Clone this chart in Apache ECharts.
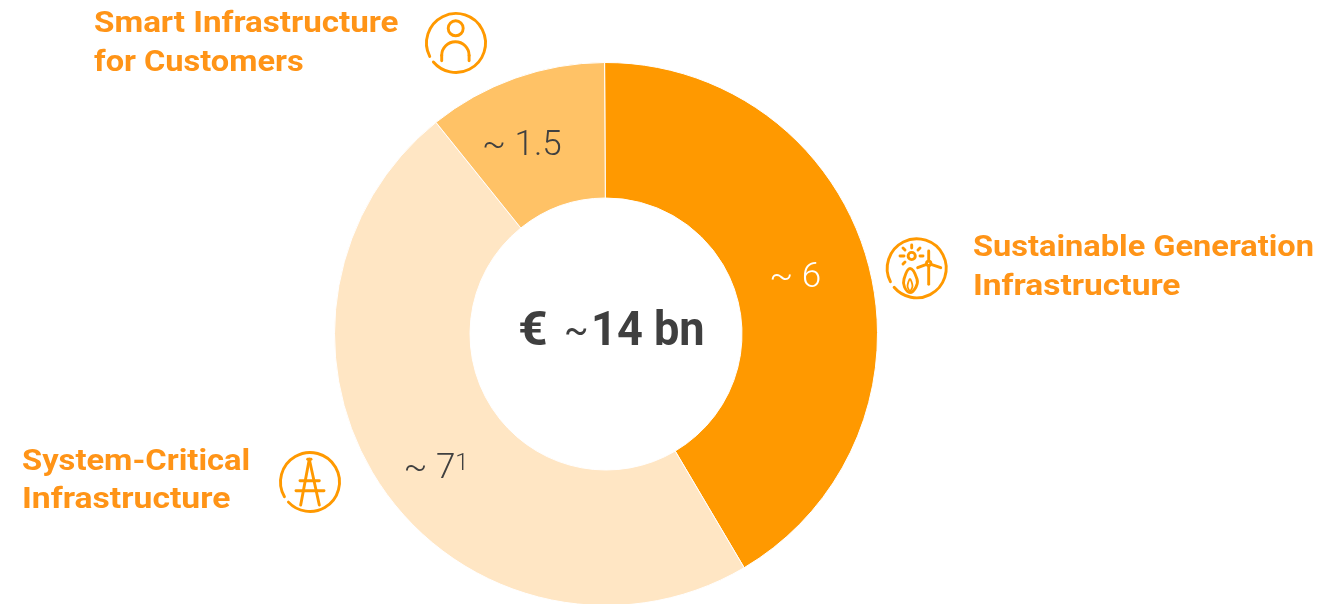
<!DOCTYPE html>
<html><head><meta charset="utf-8">
<style>html,body{margin:0;padding:0;background:#fff}#c{width:1334px;height:604px}</style>
<script src="https://cdn.jsdelivr.net/npm/echarts@6/dist/echarts.min.js"></script>
</head><body><div id="c"></div>
<script>
const categories = ['Sustainable Generation Infrastructure', 'System-Critical Infrastructure', 'Smart Infrastructure for Customers'];
const sliceValues = [6.03, 6.92, 1.55];
const valueLabels = ['6', '7', '1.5'];
const centerValue = '14 bn';
const colors = ['#FF9900', '#FFE6C4', '#FFC266'];
const labelColors = ['#FFFFFF', '#404040', '#404040'];
const labelOffsets = [[-10, -1], [0, 18], [-15, 7]];
const orange = '#FF9900';
const textOrange = '#FF9417';

const chart = echarts.init(document.getElementById('c'), null, {renderer: 'canvas'});
const FONT = 'Roboto, sans-serif';
const icoStyle = {fill: 'none', stroke: orange, lineWidth: 2.9, lineCap: 'round', lineJoin: 'round'};
const deg = d => d * Math.PI / 180;
const ring = (cx, cy, r, a, b) => ({type: 'arc', silent: true, shape: {cx, cy, r, startAngle: deg(a), endAngle: deg(b), clockwise: true}, style: icoStyle});
const seg = (s, w) => ({type: 'line', silent: true, shape: {x1: s[0], y1: s[1], x2: s[2], y2: s[3]}, style: w ? Object.assign({}, icoStyle, {lineWidth: w}) : icoStyle});
const head = (x, y, t, sx) => ({type: 'text', silent: true, x, y, scaleX: sx, style: {text: t, fill: textOrange, font: '700 30px ' + FONT, textVerticalAlign: 'middle'}});
const big = (x, t, sx, f) => ({type: 'text', silent: true, x, y: 333, scaleX: sx, style: {text: t, fill: '#3F3F3F', font: f, textVerticalAlign: 'middle'}});

const graphics = [
  head(94, 24, 'Smart Infrastructure', 1.105), head(94, 63, 'for Customers', 1.085),
  head(973, 248, 'Sustainable Generation', 1.085), head(973, 287, 'Infrastructure', 1.117),
  head(22, 462, 'System-Critical', 1.09), head(22, 500, 'Infrastructure', 1.122),
  ring(456, 43, 29.5, 153, 500),
  {type: 'circle', silent: true, shape: {cx: 455.7, cy: 28.3, r: 7.5}, style: icoStyle},
  ring(455.4, 55.4, 13.7, 180, 360),
  seg([441.7, 55.4, 441.7, 60.7]), seg([469.1, 55.4, 469.1, 60.7]),
  ring(916.7, 268.3, 29.5, 153, 500),
  {type: 'circle', silent: true, shape: {cx: 911.7, cy: 256, r: 3.6}, style: icoStyle},
  ...[[911.7,245,911.7,248],[903,248,905,250],[900,256,904,256],[903,264,905,262],[920,248,918,250],[923,256,920,256]].map(s => seg(s)),
  {type: 'circle', silent: true, shape: {cx: 928.7, cy: 263.3, r: 2.2}, style: icoStyle},
  ...[[928.7,251,928.7,261],[928.7,266,928.7,284.3],[917.7,267.7,926.5,264.3],[931,264.3,940.7,267.7]].map(s => seg(s)),
  {type: 'polygon', silent: true, shape: {points: [[910,268.5],[904,279],[904.5,287],[910,292.5],[916,287],[917,279]], smooth: 0.4}, style: icoStyle},
  {type: 'polygon', silent: true, shape: {points: [[910,279],[907.5,286],[910,291],[912.5,286]], smooth: 0.3}, style: Object.assign({}, icoStyle, {lineWidth: 1.8})},
  ring(310, 482, 29.5, 150, 497),
  ...[[309.3,459.3,300.7,505],[309.3,459.3,319.3,505],[300,480.7,319.3,480.7],[296,490.7,324,490.7],[307.7,459.3,311,459.3]].map(s => seg(s)),
  big(518, '€', 1.08, '700 48px ' + FONT),
  big(564, '~', 1.0, '400 36px ' + FONT),
  big(591, centerValue, 0.94, '700 48px ' + FONT)
];

chart.setOption({
  animation: false,
  backgroundColor: '#fff',
  color: colors,
  graphic: graphics,
  series: [{
    type: 'pie',
    center: [606, 334],
    radius: [136, 271.5],
    startAngle: 90.3,
    clockwise: true,
    silent: true,
    itemStyle: {borderColor: '#fff', borderWidth: 1},
    label: {position: 'inside'},
    labelLine: {show: false},
    data: categories.map((c, i) => ({
      name: c,
      value: sliceValues[i],
      itemStyle: {color: colors[i]},
      label: {
        show: true,
        position: 'inside',
        offset: labelOffsets[i],
        formatter: i === 1 ? '{t|~ ' + valueLabels[i] + '}{s|1}' : '{t|~ ' + valueLabels[i] + '}',
        rich: {
          t: {fontFamily: FONT, fontSize: 35, fontWeight: 300, color: labelColors[i]},
          s: {fontFamily: FONT, fontSize: 24, fontWeight: 300, color: labelColors[i], verticalAlign: 'top', padding: [0, 0, 10, 0]}
        }
      }
    }))
  }]
});
</script></body></html>
